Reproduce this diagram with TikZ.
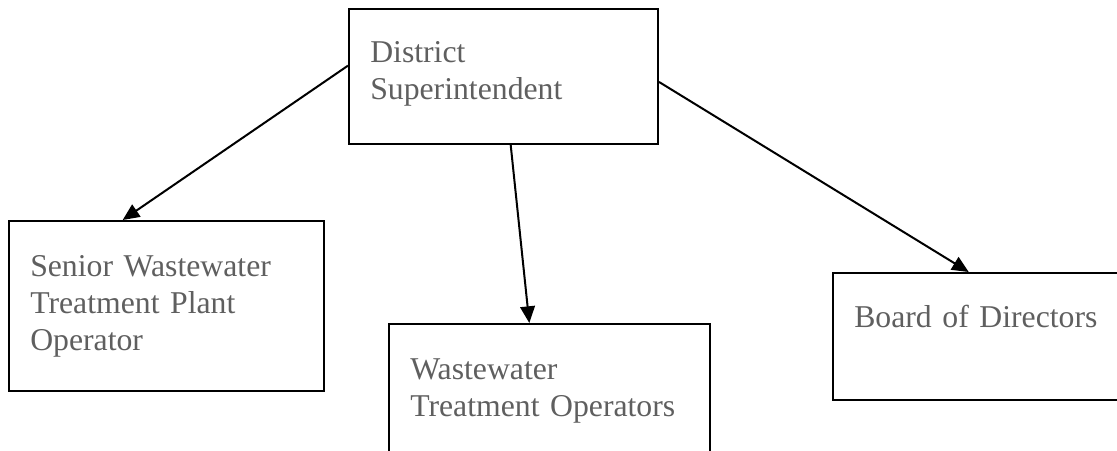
\documentclass[tikz,border=0pt]{standalone}
\usepackage{fontspec}
\setmainfont{Liberation Serif}
\usetikzlibrary{arrows, arrows.meta, calc}
\definecolor{txtgray}{RGB}{95, 95, 95}

\begin{document}
\begin{tikzpicture}[x=0.75pt, y=-0.75pt]
            \tikzstyle{box} = [rectangle, draw=black, line width=1.5pt, inner sep=0pt]
            \tikzstyle{lbl} = [anchor=base west, inner sep=0pt, text width=240pt, text=txtgray, font=\fontsize{23.8}{27.75}\selectfont]
            \tikzstyle{arrow} = [line width=1.5pt, -{Triangle[length=12.5pt, width=11pt]}]

            \clip (0,0) rectangle (1117,450);

            % boxes
            \node[box, minimum width=309*0.75pt, minimum height=135*0.75pt] (sup) at (503.5,76.5) {};
            \node[box, minimum width=315*0.75pt, minimum height=170*0.75pt] (snr) at (166.5,306) {};
            \node[box, minimum width=321*0.75pt, minimum height=160*0.75pt] (ops) at (549.5,404) {};
            \node[box, minimum width=292*0.75pt, minimum height=127*0.75pt] (brd) at (979,336.5) {};

            % texts
            \node[lbl] (supt) at ($(sup.north west)+(22,54)$) {District\\Superintendent};
            \node[lbl] (snrt) at ($(snr.north west)+(22,56)$) {Senior Wastewater\\Treatment Plant\\Operator};
            \node[lbl] (opst) at ($(ops.north west)+(22,56)$) {Wastewater\\Treatment Operators};
            \node[lbl] (brdt) at ($(brd.north west)+(22,55)$) {Board of Directors};

            % links
            \draw[arrow] (sup.176) -- (snr.117);
            \draw[arrow] (sup.-84) -- (ops.104);
            \draw[arrow] (sup.-2) -- (brd.99);
\end{tikzpicture}
\end{document}
